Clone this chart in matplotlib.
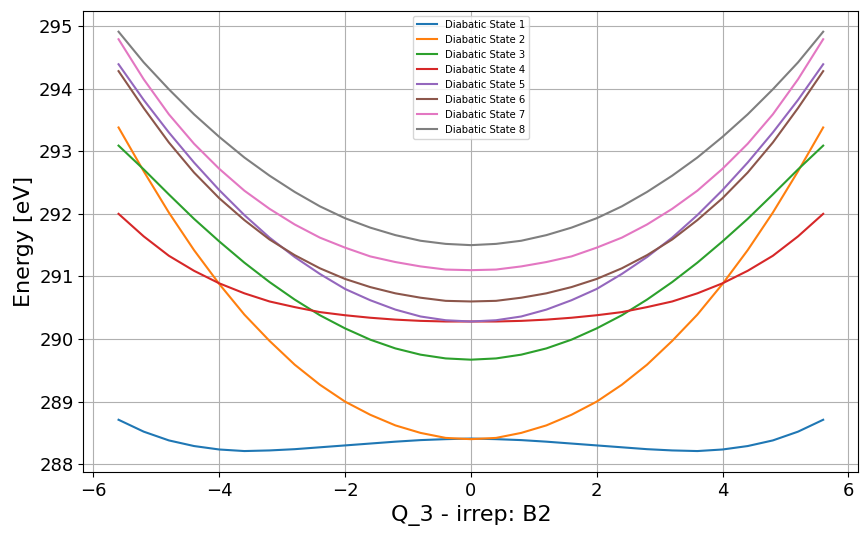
import numpy as np
from matplotlib import pyplot as plt

# координата Q_3 (симметричная сетка, шаг 0.4)
q3 = [-5.6, -5.2, -4.8, -4.4, -4.0, -3.6, -3.2, -2.8, -2.4, -2.0, -1.6, -1.2, -0.8, -0.4, 0.0,
      0.4, 0.8, 1.2, 1.6, 2.0, 2.4, 2.8, 3.2, 3.6, 4.0, 4.4, 4.8, 5.2, 5.6]

# энергии диабатических состояний, эВ
state_1 = [288.71, 288.52, 288.38, 288.29, 288.235, 288.21, 288.22, 288.24, 288.27, 288.30, 288.33, 288.36, 288.385, 288.40, 288.41,
           288.40, 288.385, 288.36, 288.33, 288.30, 288.27, 288.24, 288.22, 288.21, 288.235, 288.29, 288.38, 288.52, 288.71]
state_2 = [293.38, 292.68, 292.02, 291.42, 290.88, 290.39, 289.97, 289.59, 289.27, 289.00, 288.79, 288.62, 288.50, 288.42, 288.40,
           288.42, 288.50, 288.62, 288.79, 289.00, 289.27, 289.59, 289.97, 290.39, 290.88, 291.42, 292.02, 292.68, 293.38]
state_3 = [293.09, 292.71, 292.31, 291.92, 291.56, 291.22, 290.91, 290.63, 290.38, 290.17, 289.99, 289.85, 289.75, 289.69, 289.67,
           289.69, 289.75, 289.85, 289.99, 290.17, 290.38, 290.63, 290.91, 291.22, 291.56, 291.92, 292.31, 292.71, 293.09]
state_4 = [292.00, 291.64, 291.33, 291.09, 290.89, 290.73, 290.60, 290.51, 290.43, 290.38, 290.34, 290.31, 290.29, 290.28, 290.28,
           290.28, 290.29, 290.31, 290.34, 290.38, 290.43, 290.51, 290.60, 290.73, 290.89, 291.09, 291.33, 291.64, 292.00]
state_5 = [294.39, 293.82, 293.30, 292.82, 292.38, 291.98, 291.62, 291.31, 291.04, 290.80, 290.62, 290.47, 290.36, 290.30, 290.28,
           290.30, 290.36, 290.47, 290.62, 290.80, 291.04, 291.31, 291.62, 291.98, 292.38, 292.82, 293.30, 293.82, 294.39]
state_6 = [294.28, 293.69, 293.14, 292.66, 292.25, 291.90, 291.59, 291.34, 291.13, 290.96, 290.83, 290.73, 290.66, 290.61, 290.60,
           290.61, 290.66, 290.73, 290.83, 290.96, 291.13, 291.34, 291.59, 291.90, 292.25, 292.66, 293.14, 293.69, 294.28]
state_7 = [294.79, 294.15, 293.59, 293.12, 292.72, 292.37, 292.08, 291.83, 291.62, 291.46, 291.32, 291.23, 291.16, 291.11, 291.10,
           291.11, 291.16, 291.23, 291.32, 291.46, 291.62, 291.83, 292.08, 292.37, 292.72, 293.12, 293.59, 294.15, 294.79]
state_8 = [294.91, 294.42, 293.99, 293.59, 293.23, 292.90, 292.61, 292.35, 292.12, 291.93, 291.78, 291.66, 291.57, 291.52, 291.50,
           291.52, 291.57, 291.66, 291.78, 291.93, 292.12, 292.35, 292.61, 292.90, 293.23, 293.59, 293.99, 294.42, 294.91]

states = [state_1, state_2, state_3, state_4, state_5, state_6, state_7, state_8]
labels = [f'Diabatic State {i}' for i in range(1, 9)]

fig = plt.figure(figsize=(8.67, 5.37), dpi=100)
ax = fig.add_axes([0.0961, 0.121, 0.894, 0.859])

for energy, label in zip(states, labels):
    ax.plot(q3, energy, label=label, linewidth=1.5)

ax.set_xlabel('Q_3 - irrep: B2', size=16)
ax.set_ylabel('Energy [eV]', size=16)
ax.tick_params(labelsize=13)
ax.grid(True)
ax.legend(loc='upper center', fontsize=7.2)

plt.savefig('out.png', dpi=100)
